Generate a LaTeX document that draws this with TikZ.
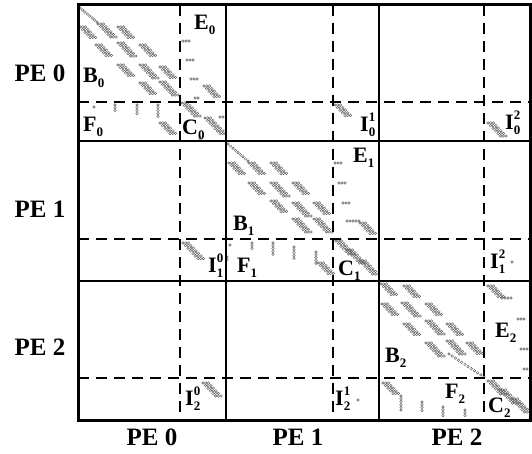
\documentclass[tikz,border=0pt]{standalone}
\usepackage{fontspec}
\setmainfont{Liberation Serif}
\definecolor{dotc}{gray}{0.38}
\tikzset{
  dotst/.style={draw=dotc, line width=0.45pt},
  frame/.style={line width=3pt, line cap=rect},
  solidline/.style={line width=1.3pt},
  dsh/.style={line width=1.5pt, dash pattern=on 11pt off 7pt},
  blab/.style={font=\fontsize{22}{22}\selectfont\bfseries, inner sep=0pt, anchor=base west},
  pelab/.style={font=\fontsize{25}{25}\selectfont\bfseries, inner sep=0pt, anchor=base},
}
\newcommand\sbx[1]{\raisebox{-5pt}{\fontsize{13}{13}\selectfont #1}}
\newcommand\spx[1]{\raisebox{10pt}{\fontsize{13}{13}\selectfont #1}}
\newcommand\spclus[3]{\foreach \r in {1,...,#3}{\foreach \c in {0,1,2}{\draw[dotst] ({#1+(\r-1)*2.5+\c*2.7},{#2+(\r-1)*2.6}) circle (1.3pt);}}}
\newcommand\sphrow[3]{\foreach \k in {1,...,#3}{\draw[dotst] ({#1+(\k-1)*3},{#2}) circle (1.3pt);}}
\newcommand\spvrow[3]{\foreach \k in {1,...,#3}{\draw[dotst] ({#1},{#2+(\k-1)*2.8}) circle (1.3pt);}}
\newcommand\spdiag[5]{\foreach \k in {0,...,#5}{\draw[dotst] ({#1+(#3-#1)*\k/#5},{#2+(#4-#2)*\k/#5}) circle (1.3pt);}}
\begin{document}
\begin{tikzpicture}[x=1pt,y=-1pt]
\useasboundingbox (0,0) rectangle (532,454);
% ---- sparsity pattern, block 0
\spdiag{80}{8}{97}{22}{7}
\spclus{80}{27}{5}\spclus{98}{24}{6}\spclus{118}{27}{5}
\spclus{96}{45}{5}\spclus{118}{43}{6}\spclus{140}{45}{5}
\spclus{118}{65}{5}\spclus{140}{65}{6}\spclus{160}{67}{5}
\spclus{140}{83}{5}\spclus{160}{82}{6}
\sphrow{183}{41}{3}\sphrow{187}{60}{3}\sphrow{191}{79}{3}
\spclus{204}{86}{5}\sphrow{195}{98}{2}
\spclus{182}{103}{6}\spclus{205}{118}{7}\sphrow{220}{117}{2}
\spvrow{200}{137}{2}
\draw[dotst] (94,107) circle (1.3pt);
\spvrow{115}{105}{3}\spvrow{137}{105}{4}\spvrow{158}{105}{5}
\spclus{160}{123}{5}
% I0^1, I0^2
\spclus{335}{105}{5}
\spclus{488}{123}{6}
% ---- block 1
\spdiag{228}{144}{248}{161}{8}
\spclus{229}{163}{5}\spclus{249}{163}{5}\spclus{271}{163}{5}
\spclus{249}{183}{5}\spclus{271}{183}{6}\spclus{293}{183}{5}
\spclus{271}{201}{5}\spclus{293}{203}{6}\spclus{314}{203}{5}
\spclus{293}{219}{6}\spclus{314}{219}{6}
\sphrow{335}{163}{3}\sphrow{339}{183}{3}\sphrow{343}{203}{3}
\sphrow{347}{221}{5}\spclus{360}{223}{5}
\spclus{336}{241}{6}\spclus{347}{250}{6}\spclus{360}{261}{6}
\draw[dotst] (230,245) circle (1.3pt);
\spvrow{252}{243}{3}\spvrow{273}{243}{5}\spvrow{294}{247}{5}
\spvrow{316}{252}{5}\spclus{318}{263}{5}
% I1^0, I1^2
\spclus{183}{243}{7}\spvrow{227}{257}{2}
\draw[dotst] (512,262) circle (1.3pt);
% ---- block 2
\spclus{381}{284}{5}\spclus{404}{286}{5}
\spclus{382}{304}{5}\spclus{402}{303}{6}\spclus{426}{304}{5}
\spclus{404}{324}{5}\spclus{426}{321}{6}\spclus{447}{324}{5}
\spclus{426}{343}{6}\spclus{447}{341}{6}\spclus{467}{343}{5}
\spdiag{449}{354}{484}{377}{11}
\spclus{488}{286}{5}\sphrow{502}{298}{4}
\sphrow{518}{319}{3}\sphrow{521}{349}{3}\sphrow{524}{369}{2}
\spclus{488}{381}{6}\spclus{500}{390}{6}\spclus{512}{399}{6}
\spclus{383}{383}{5}\spvrow{401}{396}{6}\spvrow{422}{402}{4}
\spvrow{443}{407}{4}\spvrow{465}{410}{3}
% I2^0, I2^1
\spclus{203}{383}{6}
\draw[dotst] (358,400) circle (1.3pt);
% ---- grid
\draw[dsh] (180,5) -- (180,420);
\draw[dsh] (333,5) -- (333,420);
\draw[dsh] (484,5) -- (484,420);
\draw[dsh] (78,102) -- (530,102);
\draw[dsh, line width=1.1pt] (78,239) -- (530,239);
\draw[dsh] (78,378) -- (530,378);
\draw[solidline] (226,5) -- (226,420);
\draw[solidline] (379,5) -- (379,420);
\draw[solidline] (78,141) -- (530,141);
\draw[solidline] (78,281) -- (530,281);
\draw[frame] (78,5) rectangle (530.5,420);
% ---- block labels
\node[blab] (B0) at (83,83) {B\sbx{0}};
\node[blab] (E0) at (194,30) {E\sbx{0}};
\node[blab] (F0) at (83,132) {F\sbx{0}};
\node[blab] (C0) at (182,135) {C\sbx{0}};
\node[blab] (I01) at (360,132) {I\rlap{\spx{1}}\sbx{0}};
\node[blab] (I02) at (505,130) {I\rlap{\spx{2}}\sbx{0}};
\node[blab] (B1) at (233,230) {B\sbx{1}};
\node[blab] (E1) at (353,163) {E\sbx{1}};
\node[blab] (F1) at (237,272) {F\sbx{1}};
\node[blab] (C1) at (338,275) {C\sbx{1}};
\node[blab] (I10) at (208,272) {I\rlap{\spx{0}}\sbx{1}};
\node[blab] (I12) at (490,268) {I\rlap{\spx{2}}\sbx{1}};
\node[blab] (B2) at (385,362) {B\sbx{2}};
\node[blab] (E2) at (495,337) {E\sbx{2}};
\node[blab] (F2) at (445,398) {F\sbx{2}};
\node[blab] (C2) at (488,412) {C\sbx{2}};
\node[blab] (I20) at (185,405) {I\rlap{\spx{0}}\sbx{2}};
\node[blab] (I21) at (335,405) {I\rlap{\spx{1}}\sbx{2}};
% ---- PE labels
\node[pelab] (r0) at (40,82) {PE 0};
\node[pelab] (r1) at (40,218) {PE 1};
\node[pelab] (r2) at (40,355) {PE 2};
\node[pelab] (c0) at (152,445) {PE 0};
\node[pelab] (c1) at (298,445) {PE 1};
\node[pelab] (c2) at (457,445) {PE 2};
\end{tikzpicture}
\end{document}
